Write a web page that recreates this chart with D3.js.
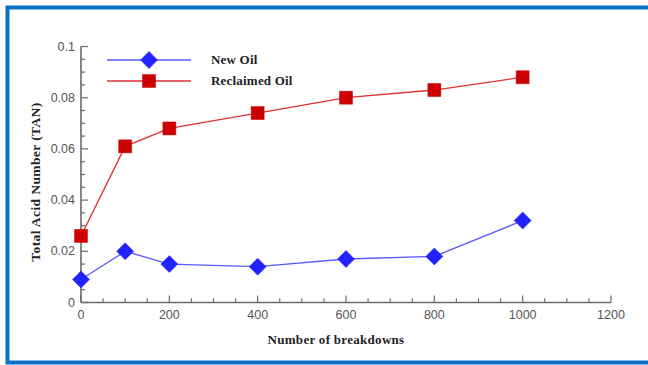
<!DOCTYPE html>
<html>
<head>
<meta charset="utf-8">
<script src="https://cdn.jsdelivr.net/npm/d3@7"></script>
<style>
  html, body { margin: 0; padding: 0; background: #fff; }
  svg { display: block; }
</style>
</head>
<body>
<svg id="chart" width="648" height="365"></svg>
<script>
// Breakdown counts and TAN values for the two oils
const breakdowns = [0, 100, 200, 400, 600, 800, 1000];
const newOil = [0.009, 0.020, 0.015, 0.014, 0.017, 0.018, 0.032];
const reclaimedOil = [0.026, 0.061, 0.068, 0.074, 0.080, 0.083, 0.088];
const seriesNames = ["New Oil", "Reclaimed Oil"];
const xTicks = [0, 200, 400, 600, 800, 1000, 1200];
const yTicks = [0, 0.02, 0.04, 0.06, 0.08, 0.1];

const svg = d3.select("#chart");

// Blue frame (open on the right)
svg.append("path")
  .attr("d", "M650,7.5 H7.5 V362.5 H650")
  .attr("fill", "none")
  .attr("stroke", "#0A72C6")
  .attr("stroke-width", 4);

const x = d3.scaleLinear().domain([0, 1200]).range([81, 611]);
const y = d3.scaleLinear().domain([0, 0.1]).range([302.5, 46.5]);

const axisColor = "#6a6a6a";
const labelColor = "#555";
const tickFont = "'Liberation Sans', Arial, sans-serif";
const serif = "'Liberation Serif', 'Times New Roman', serif";

// Axis lines
svg.append("line").attr("x1", x(0)).attr("x2", x(1200)).attr("y1", y(0)).attr("y2", y(0))
  .attr("stroke", axisColor).attr("stroke-width", 1.6);
svg.append("line").attr("x1", x(0)).attr("x2", x(0)).attr("y1", y(0)).attr("y2", y(0.1))
  .attr("stroke", axisColor).attr("stroke-width", 1.6);

// X ticks: minor every 50, major every 200 (pointing inward)
const xMinor = d3.range(0, 1201, 50);
svg.append("g").selectAll("line").data(xMinor).join("line")
  .attr("x1", d => x(d)).attr("x2", d => x(d))
  .attr("y1", y(0)).attr("y2", d => y(0) - (d % 200 === 0 ? 7 : 4))
  .attr("stroke", axisColor).attr("stroke-width", 1.2);

// Y ticks: minor every 0.005, major every 0.02
const yMinor = d3.range(0, 21).map(i => i * 0.005);
svg.append("g").selectAll("line").data(yMinor).join("line")
  .attr("x1", x(0)).attr("x2", (d, i) => x(0) + (i % 4 === 0 ? 7 : 4))
  .attr("y1", d => y(d)).attr("y2", d => y(d))
  .attr("stroke", axisColor).attr("stroke-width", 1.2);

// Tick labels
svg.append("g").selectAll("text").data(xTicks).join("text")
  .attr("x", d => x(d)).attr("y", y(0) + 16)
  .attr("text-anchor", "middle")
  .attr("font-family", tickFont).attr("font-size", 12.5)
  .attr("fill", labelColor)
  .text(d => d);

svg.append("g").selectAll("text").data(yTicks).join("text")
  .attr("x", x(0) - 6).attr("y", d => y(d) + 4)
  .attr("text-anchor", "end")
  .attr("font-family", tickFont).attr("font-size", 12.5)
  .attr("fill", labelColor)
  .text(d => d === 0 ? "0" : d3.format("")(+d.toFixed(2)));

// Axis titles
svg.append("text")
  .attr("x", 336).attr("y", 344)
  .attr("text-anchor", "middle")
  .attr("font-family", serif).attr("font-weight", "bold").attr("font-size", 13)
  .attr("letter-spacing", 0.3)
  .attr("fill", "#222")
  .text("Number of breakdowns");

svg.append("text")
  .attr("transform", "translate(40,182) rotate(-90)")
  .attr("text-anchor", "middle")
  .attr("font-family", serif).attr("font-weight", "bold").attr("font-size", 13.5)
  .attr("letter-spacing", 0.4)
  .attr("fill", "#222")
  .text("Total Acid Number (TAN)");

// Series
const series = [
  { name: seriesNames[0], values: newOil, line: "#5a5aff", fill: "#2222ff", shape: "diamond" },
  { name: seriesNames[1], values: reclaimedOil, line: "#e03030", fill: "#cc0000", shape: "square" }
];

const lineGen = d3.line().x(d => x(d[0])).y(d => y(d[1]));
const symbolPath = shape => shape === "diamond"
  ? "M0,-8.5 L8.5,0 L0,8.5 L-8.5,0 Z"
  : "M-6.5,-6.5 H6.5 V6.5 H-6.5 Z";

series.forEach(s => {
  const pts = breakdowns.map((b, i) => [b, s.values[i]]);
  svg.append("path")
    .attr("d", lineGen(pts))
    .attr("fill", "none")
    .attr("stroke", s.line)
    .attr("stroke-width", 1.3);
  svg.append("g").selectAll("path").data(pts).join("path")
    .attr("transform", d => `translate(${x(d[0])},${y(d[1])})`)
    .attr("d", symbolPath(s.shape))
    .attr("fill", s.fill)
    .attr("stroke", s.fill)
    .attr("stroke-width", 0.5);
});

// Legend
const legend = svg.append("g");
series.forEach((s, i) => {
  const ly = 60 + i * 21;
  legend.append("line").attr("x1", 107).attr("x2", 191).attr("y1", ly).attr("y2", ly)
    .attr("stroke", s.line).attr("stroke-width", 1.3);
  legend.append("path")
    .attr("transform", `translate(149,${ly})`)
    .attr("d", symbolPath(s.shape))
    .attr("fill", s.fill).attr("stroke", s.fill).attr("stroke-width", 0.5);
  legend.append("text")
    .attr("x", 211).attr("y", ly + 4)
    .attr("font-family", serif).attr("font-weight", "bold").attr("font-size", 13)
    .attr("letter-spacing", 0.2)
    .attr("fill", "#222")
    .text(s.name);
});
</script>
</body>
</html>
